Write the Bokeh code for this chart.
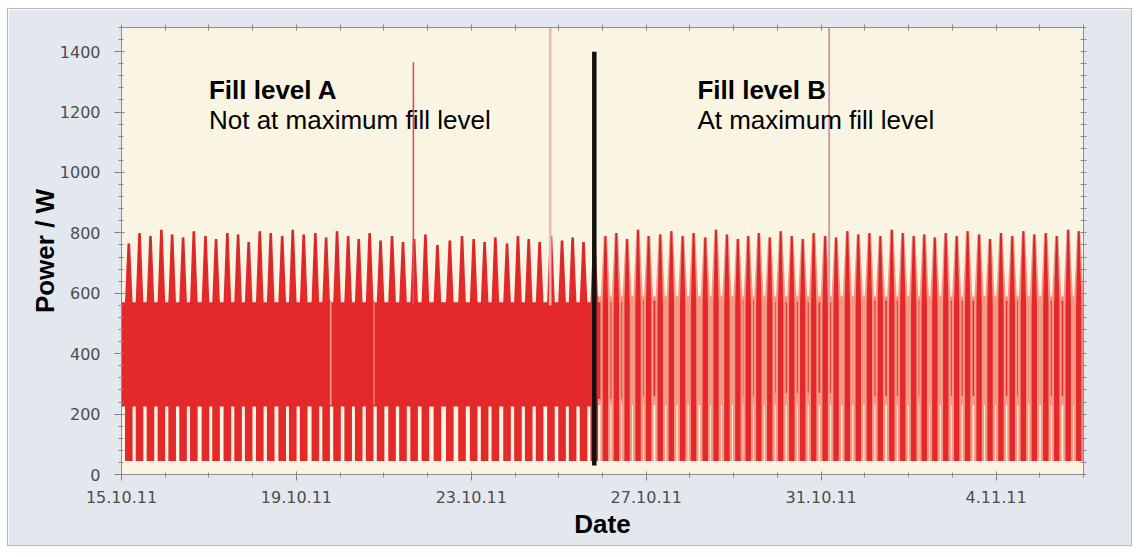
from bokeh.plotting import figure
from bokeh.models import Range1d, LinearAxis, FixedTicker, Label
from bokeh.embed import file_html
from bokeh.resources import INLINE

# ---------------- data ----------------
x_tick_days = [0, 4, 8, 12, 16, 20]
x_tick_labels = ["15.10.11", "19.10.11", "23.10.11", "27.10.11", "31.10.11", "4.11.11"]
x_minor_days = list(range(0, 23))
y_ticks = [0, 200, 400, 600, 800, 1000, 1200, 1400]

# hours since 15.10.11 00:00 of each cooling spike, fill level A
spike_hours_a = [4.0, 9.9, 15.9, 21.9, 27.8, 33.8, 39.7, 46.1, 51.9, 58.1,
                 64.0, 69.8, 75.9, 81.9, 88.2, 94.0, 100.0, 106.4, 112.3, 118.3,
                 124.4, 130.2, 136.2, 142.2, 148.5, 154.5, 160.6, 166.8, 173.4, 180.2,
                 186.9, 193.3, 199.3, 205.2, 211.6, 217.6, 223.5, 229.5, 235.7, 241.8,
                 247.6, 253.6, 259.5]
spike_peak_a = [765, 800, 790, 810, 795, 785, 805, 790, 780, 800,
                795, 770, 805, 800, 790, 810, 795, 800, 785, 805,
                790, 780, 800, 775, 790, 770, 780, 795, 760, 775,
                790, 780, 770, 785, 765, 790, 780, 770, 790, 775,
                785, 770, 780]
# fill level B
spike_hours_b = [265.6, 271.6, 277.5, 283.5, 289.3, 295.7, 301.8, 308.0, 314.0, 320.4,
                 326.3, 332.3, 338.3, 344.0, 349.8, 355.8, 361.8, 367.9, 373.9, 379.9,
                 386.2, 392.2, 398.4, 404.4, 410.5, 416.5, 422.8, 428.8, 434.8, 440.6,
                 446.4, 452.4, 458.4, 464.4, 470.7, 476.7, 482.7, 488.9, 495.0, 501.0,
                 507.3, 513.3, 519.6, 525.4]
spike_peak_b = [790, 800, 780, 810, 790, 795, 805, 790, 800, 785,
                810, 795, 780, 790, 800, 785, 805, 790, 780, 800,
                790, 785, 805, 795, 800, 790, 810, 800, 790, 795,
                785, 800, 790, 805, 795, 780, 800, 790, 805, 795,
                800, 790, 810, 805]
spike_low_w = 45

# continuous compressor band (hours) with its lower / upper power level
band_start_h = [0.0, 260.6, 284.7, 337.0, 358.8, 410.9, 435.6, 454.8, 481.0, 509.6]
band_end_h = [259.5, 279.2, 295.7, 348.0, 394.4, 427.3, 441.0, 468.5, 492.0, 517.8]
band_low_w = [225, 250, 260, 260, 270, 260, 260, 260, 260, 260]
band_high_w = [570, 570, 575, 575, 570, 575, 575, 575, 575, 575]

# intermittent (pale) band during fill level B
pale_band_h = [259.5, 528.0]
pale_band_w = [230, 590]

# short interruptions of the band during fill level A (hours)
band_gap_hours = [88.9, 114.6, 138.2, 153.6, 199.7]

# isolated peaks
outlier_hours = [160.2, 235.3, 388.4]
outlier_peak_w = [1365, 1500, 1500]

# change of fill level
divider_hour = 259.5
divider_w = [30, 1400]

# ---------------- figure ----------------
X_MAX = 22.0
FRAME_W, FRAME_H = 962, 447
dpp = X_MAX / FRAME_W  # days per pixel

p = figure(frame_width=FRAME_W, frame_height=FRAME_H,
           x_range=Range1d(0, X_MAX), y_range=Range1d(0, 1480),
           output_backend="svg", toolbar_location=None,
           min_border_left=113, min_border_right=48,
           min_border_top=18, min_border_bottom=71)
p.background_fill_color = "#faf5e2"
p.border_fill_color = "#e3e7ee"
p.outline_line_color = "#8c8c8c"
p.xgrid.visible = False
p.ygrid.visible = False
p.styles = {"border": "1px solid #b4b8c0", "margin-left": "7px", "margin-top": "8px"}

RED = "#e4292b"
SALMON = "#f39a87"


def h2d(h):
    return h / 24.0


# pale band of fill level B
p.quad(left=[h2d(pale_band_h[0])], right=[h2d(pale_band_h[1])],
       bottom=[pale_band_w[0]], top=[pale_band_w[1]],
       fill_color=SALMON, line_color=None)

# solid band
p.quad(left=[h2d(v) for v in band_start_h], right=[h2d(v) for v in band_end_h],
       bottom=band_low_w, top=band_high_w, fill_color=RED, line_color=None)

# gaps in the band
gap_w = [4.5, 2.5, 2.5, 2.0, 3.0]
p.quad(left=[h2d(h) - w / 2 * dpp for h, w in zip(band_gap_hours, gap_w)],
       right=[h2d(h) + w / 2 * dpp for h, w in zip(band_gap_hours, gap_w)],
       bottom=[230] * len(band_gap_hours), top=[575] * len(band_gap_hours),
       fill_color="#f39a86", line_color=None)


def spike_shapes(hours, peaks, hw_px, tw_px, band_hi):
    xs, ys = [], []
    for h, pk in zip(hours, peaks):
        c = h2d(h)
        hw, tw = hw_px * dpp, tw_px * dpp
        xs.append([c - hw, c + hw, c + hw, c + tw, c - tw, c - hw])
        ys.append([spike_low_w, spike_low_w, band_hi, pk, pk, band_hi])
    return xs, ys


# fill level A spikes
xs, ys = spike_shapes(spike_hours_a, spike_peak_a, 3.8, 1.3, 570)
p.patches(xs, ys, fill_color=RED, line_color=None)

# fill level B spikes: pale halo + red core
xs, ys = spike_shapes(spike_hours_b, spike_peak_b, 5.0, 1.6, 560)
p.patches(xs, ys, fill_color=SALMON, line_color=None)
xs, ys = spike_shapes(spike_hours_b, spike_peak_b, 2.7, 0.9, 560)
p.patches(xs, ys, fill_color=RED, line_color=None)

# darker spike tips
all_h = spike_hours_a + spike_hours_b
all_pk = spike_peak_a + spike_peak_b
p.segment(x0=[h2d(h) for h in all_h], y0=[650] * len(all_h),
          x1=[h2d(h) for h in all_h], y1=all_pk,
          line_color="#a8323c", line_width=1.2, line_alpha=0.55)

# isolated peaks
out_colors = ["#d9505a", "#f0b4bc", "#c8a2a4"]
out_widths = [1.6, 2.6, 2.0]
for h, pk, c, w in zip(outlier_hours, outlier_peak_w, out_colors, out_widths):
    p.segment(x0=[h2d(h)], y0=[560], x1=[h2d(h)], y1=[pk], line_color=c, line_width=w)

# divider
p.segment(x0=[h2d(divider_hour)], y0=[divider_w[0]], x1=[h2d(divider_hour)], y1=[divider_w[1]],
          line_color="#111111", line_width=4.5)

# annotations
FONT = "Liberation Sans"
for x, t1, t2 in [(2.0, "Fill level A", "Not at maximum fill level"),
                  (13.17, "Fill level B", "At maximum fill level")]:
    p.add_layout(Label(x=x, y=1273, text=t1, text_font=FONT, text_font_style="bold",
                       text_font_size="26px", text_color="#000000", text_baseline="alphabetic"))
    p.add_layout(Label(x=x, y=1173, text=t2, text_font=FONT,
                       text_font_size="26px", text_color="#000000", text_baseline="alphabetic"))

# ---------------- axes ----------------
x_ticker = FixedTicker(ticks=x_tick_days, minor_ticks=x_minor_days)
y_minor = [v for v in range(0, 1481, 40)]
y_ticker = FixedTicker(ticks=y_ticks, minor_ticks=y_minor)

# mirrored axes: tick marks only (no labels)
top_ax = LinearAxis(ticker=FixedTicker(ticks=[], minor_ticks=x_minor_days))
right_ax = LinearAxis(ticker=FixedTicker(ticks=[], minor_ticks=y_minor))
p.add_layout(top_ax, "above")
p.add_layout(right_ax, "right")

p.below[0].ticker = x_ticker
p.left[0].ticker = y_ticker

for ax in p.axis:
    ax.axis_line_color = "#8c8c8c"
    ax.major_tick_line_color = "#777777"
    ax.minor_tick_line_color = "#888888"
    ax.major_tick_in = 3
    ax.major_tick_out = 6
    ax.minor_tick_in = 2
    ax.minor_tick_out = 3
    ax.major_label_text_font = "DejaVu Sans"
    ax.major_label_text_font_size = "16px"
    ax.major_label_text_color = "#4d4d4d"

for ax in (top_ax, right_ax):
    ax.minor_tick_in = 3
    ax.minor_tick_out = 3
    ax.minor_tick_line_color = "#8a8a8a"

bx = p.below[0]
bx.major_label_overrides = {d: lab for d, lab in zip(x_tick_days, x_tick_labels)}
bx.major_label_standoff = 10
bx.axis_label = "Date"
bx.axis_label_text_font = FONT
bx.axis_label_text_font_style = "bold"
bx.axis_label_text_font_size = "26px"
bx.axis_label_text_color = "#000000"
bx.axis_label_standoff = 3

ly = p.left[0]
ly.major_label_standoff = 14
ly.major_tick_out = 7
ly.axis_label = "Power / W"
ly.axis_label_text_font = FONT
ly.axis_label_text_font_style = "bold"
ly.axis_label_text_font_size = "26px"
ly.axis_label_text_color = "#000000"
ly.axis_label_standoff = -3

open("out.html", "w").write(file_html(p, INLINE))
